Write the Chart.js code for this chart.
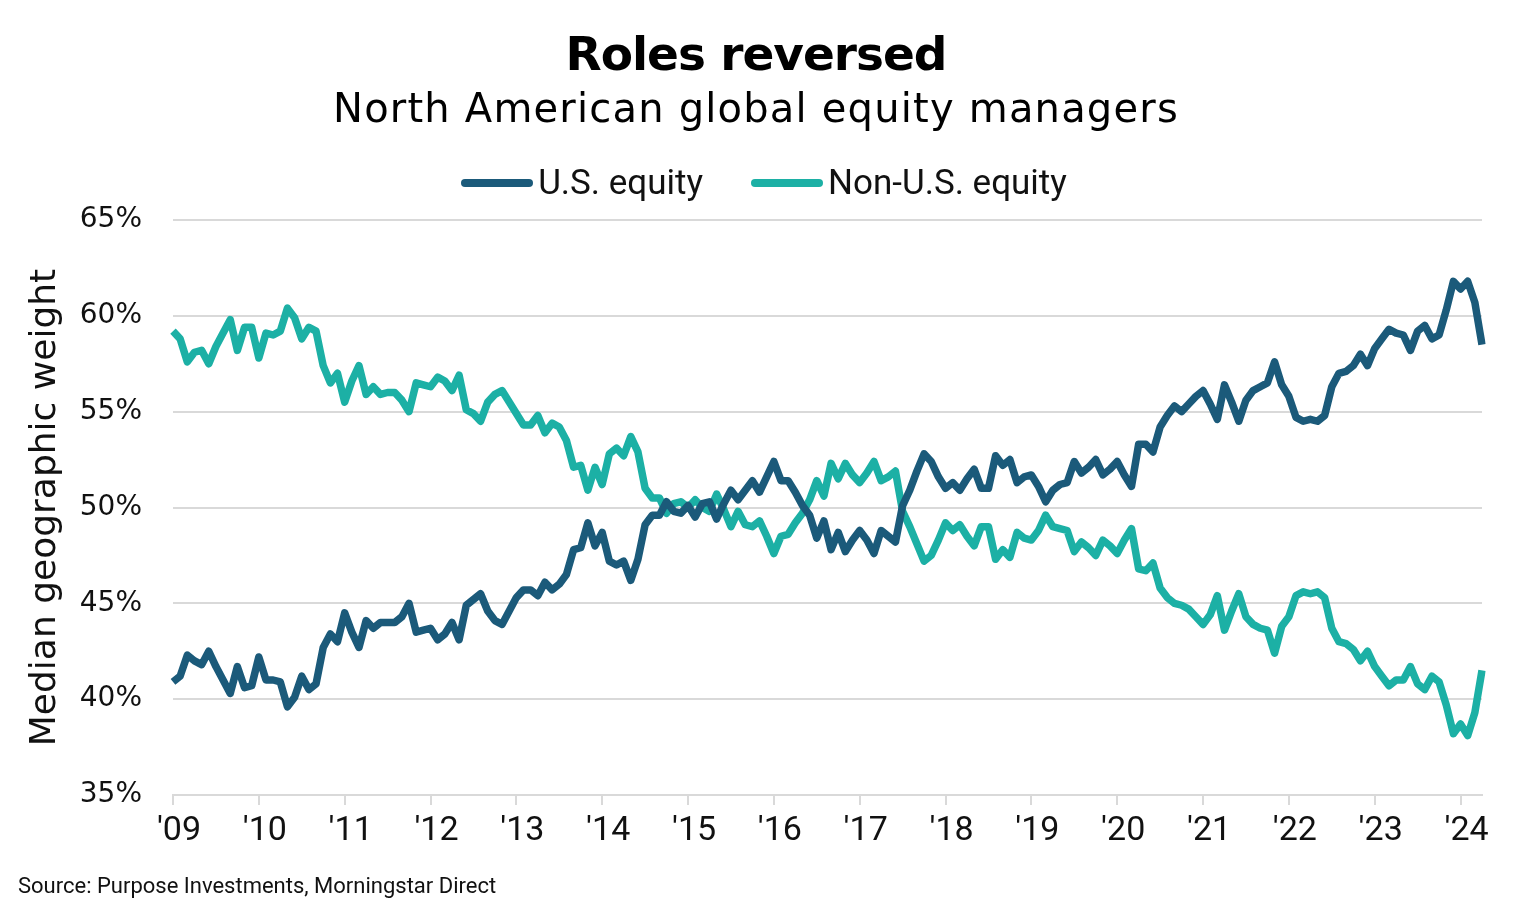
<!DOCTYPE html>
<html>
<head>
<meta charset="utf-8">
<title>Roles reversed</title>
<script src="https://cdn.jsdelivr.net/npm/chart.js@4.4.1/dist/chart.umd.min.js"></script>
<style>
  html, body { margin: 0; padding: 0; background: #fff; }
  #wrap { position: relative; width: 1524px; height: 922px; overflow: hidden; }
  #chart { position: absolute; left: 0; top: 0; }
  .head { position: absolute; left: 0; width: 1512px; text-align: center; color: #000; line-height: 1; }
  #t1 { top: 30px; font-family: 'DejaVu Sans'; font-weight: bold; font-size: 47px; letter-spacing: -1px; }
  #t2 { top: 88px; font-family: 'DejaVu Sans'; font-size: 40px; letter-spacing: 1.2px; }
  #legend { position: absolute; left: 0; top: 163px; width: 1528px; display: flex; justify-content: center; gap: 48px;
            font-family: Roboto; font-size: 35px; color: #111; line-height: 40px; }
  #legend .item { display: flex; align-items: center; }
  #legend .bar { width: 72px; height: 8px; border-radius: 4px; margin-right: 5px; }
  #src { position: absolute; left: 18px; top: 875px; font-family: Roboto; font-size: 22px; color: #111; line-height: 1; }
</style>
</head>
<body>
<div id="wrap">
  <canvas id="chart" width="1524" height="922"></canvas>
  <div class="head" id="t1">Roles reversed</div>
  <div class="head" id="t2">North American global equity managers</div>
  <div id="legend"></div>
  <div id="src">Source: Purpose Investments, Morningstar Direct</div>
</div>
<script>
// monthly median weights, Jan 2009 - Apr 2024
const usEquity = [
  40.9, 41.2, 42.3, 42.0, 41.8, 42.5, 41.7, 41.0, 40.3, 41.7, 40.6, 40.7,
  42.2, 41.0, 41.0, 40.9, 39.6, 40.1, 41.2, 40.5, 40.8, 42.7, 43.4, 43.0,
  44.5, 43.5, 42.7, 44.1, 43.7, 44.0, 44.0, 44.0, 44.3, 45.0, 43.5, 43.6,
  43.7, 43.1, 43.4, 44.0, 43.1, 44.9, 45.2, 45.5, 44.6, 44.1, 43.9, 44.6,
  45.3, 45.7, 45.7, 45.4, 46.1, 45.7, 46.0, 46.5, 47.8, 47.9, 49.2, 48.0,
  48.7, 47.2, 47.0, 47.2, 46.2, 47.3, 49.1, 49.6, 49.6, 50.3, 49.8, 49.7,
  50.1, 49.5, 50.2, 50.3, 49.4, 50.2, 50.9, 50.4, 50.9, 51.4, 50.8, 51.6,
  52.4, 51.4, 51.4, 50.8, 50.1, 49.6, 48.4, 49.3, 47.8, 48.7, 47.7, 48.3,
  48.8, 48.3, 47.6, 48.8, 48.5, 48.2, 50.1, 50.9, 51.9, 52.8, 52.4, 51.6,
  51.0, 51.3, 50.9, 51.5, 52.0, 51.0, 51.0, 52.7, 52.2, 52.5, 51.3, 51.6,
  51.7, 51.1, 50.3, 50.9, 51.2, 51.3, 52.4, 51.8, 52.1, 52.5, 51.7, 52.0,
  52.4, 51.7, 51.1, 53.3, 53.3, 52.9, 54.2, 54.8, 55.3, 55.0, 55.4, 55.8,
  56.1, 55.4, 54.6, 56.4, 55.5, 54.5, 55.6, 56.1, 56.3, 56.5, 57.6, 56.4,
  55.8, 54.7, 54.5, 54.6, 54.5, 54.8, 56.3, 57.0, 57.1, 57.4, 58.0, 57.4,
  58.3, 58.8, 59.3, 59.1, 59.0, 58.2, 59.2, 59.5, 58.8, 59.0, 60.3, 61.8,
  61.4, 61.8, 60.7, 58.5
];
const nonUsEquity = [
  59.2, 58.8, 57.6, 58.1, 58.2, 57.5, 58.4, 59.1, 59.8, 58.2, 59.4, 59.4,
  57.8, 59.1, 59.0, 59.2, 60.4, 59.9, 58.8, 59.4, 59.2, 57.4, 56.5, 57.0,
  55.5, 56.6, 57.4, 55.9, 56.3, 55.9, 56.0, 56.0, 55.6, 55.0, 56.5, 56.4,
  56.3, 56.8, 56.6, 56.1, 56.9, 55.1, 54.9, 54.5, 55.5, 55.9, 56.1, 55.5,
  54.9, 54.3, 54.3, 54.8, 53.9, 54.4, 54.2, 53.5, 52.1, 52.2, 50.9, 52.1,
  51.2, 52.8, 53.1, 52.7, 53.7, 52.9, 51.0, 50.5, 50.5, 49.7, 50.2, 50.3,
  50.0, 50.4, 50.0, 49.8, 50.7, 49.9, 49.0, 49.8, 49.1, 49.0, 49.3, 48.5,
  47.6, 48.5, 48.6, 49.2, 49.7, 50.4, 51.4, 50.6, 52.3, 51.5, 52.3, 51.7,
  51.3, 51.8, 52.4, 51.4, 51.6, 51.9, 49.8, 49.0, 48.1, 47.2, 47.5, 48.3,
  49.2, 48.8, 49.1, 48.5, 48.0, 49.0, 49.0, 47.3, 47.8, 47.4, 48.7, 48.4,
  48.3, 48.8, 49.6, 49.0, 48.9, 48.8, 47.7, 48.2, 47.9, 47.5, 48.3, 48.0,
  47.6, 48.3, 48.9, 46.8, 46.7, 47.1, 45.8, 45.3, 45.0, 44.9, 44.7, 44.3,
  43.9, 44.4, 45.4, 43.6, 44.6, 45.5, 44.3, 43.9, 43.7, 43.6, 42.4, 43.8,
  44.3, 45.4, 45.6, 45.5, 45.6, 45.3, 43.7, 43.0, 42.9, 42.6, 42.0, 42.5,
  41.7, 41.2, 40.7, 41.0, 41.0, 41.7, 40.8, 40.5, 41.2, 40.9, 39.7, 38.2,
  38.7, 38.1, 39.3, 41.5
];
const yearTicks = ["'09", "'10", "'11", "'12", "'13", "'14", "'15", "'16",
                   "'17", "'18", "'19", "'20", "'21", "'22", "'23", "'24"];
const seriesNames = ['U.S. equity', 'Non-U.S. equity'];
const seriesColors = ['#1b5a7a', '#1cb0a5'];

const months = [];
for (let i = 0; i < usEquity.length; i++) {
  months.push((2009 + Math.floor(i / 12)) + '-' + String(i % 12 + 1).padStart(2, '0'));
}

const gridGrey = '#d9d9d9';

const chart = new Chart(document.getElementById('chart'), {
  type: 'line',
  data: {
    labels: months,
    datasets: [
      { label: seriesNames[0], data: usEquity, borderColor: seriesColors[0], backgroundColor: seriesColors[0] },
      { label: seriesNames[1], data: nonUsEquity, borderColor: seriesColors[1], backgroundColor: seriesColors[1] }
    ]
  },
  options: {
    responsive: false,
    animation: false,
    devicePixelRatio: 1,
    layout: { padding: { top: 220, right: 42, bottom: 52, left: 0 } },
    elements: {
      point: { radius: 0 },
      line: { borderWidth: 7.5, tension: 0, borderJoinStyle: 'round', borderCapStyle: 'butt' }
    },
    plugins: {
      legend: { display: false },
      tooltip: { enabled: false }
    },
    scales: {
      x: {
        type: 'category',
        offset: false,
        afterFit: (s) => { s.height = 75; },
        grid: { drawOnChartArea: false, drawTicks: true, tickLength: 10, color: gridGrey, lineWidth: 2 },
        border: { display: true, color: gridGrey, width: 2 },
        ticks: {
          autoSkip: false,
          maxRotation: 0,
          padding: 6,
          labelOffset: 6,
          color: '#111',
          font: { family: 'Roboto', size: 34 },
          callback: (value, index) => (index % 12 === 0 ? yearTicks[index / 12] : null)
        }
      },
      y: {
        min: 35,
        max: 65,
        afterFit: (s) => { s.width = 173; },
        grid: { color: gridGrey, lineWidth: 2, drawTicks: false },
        border: { display: false },
        ticks: {
          stepSize: 5,
          padding: 31,
          color: '#111',
          font: { family: 'DejaVu Sans', size: 28 },
          callback: (v) => v + '%'
        },
        title: {
          display: true,
          text: 'Median geographic weight',
          color: '#111',
          font: { family: 'DejaVu Sans', size: 36 },
          padding: { top: 24, bottom: 0 }
        }
      }
    }
  }
});

// legend built from the chart's datasets
const legendEl = document.getElementById('legend');
chart.data.datasets.forEach((ds) => {
  const item = document.createElement('div');
  item.className = 'item';
  const bar = document.createElement('span');
  bar.className = 'bar';
  bar.style.background = ds.borderColor;
  const txt = document.createElement('span');
  txt.textContent = ds.label;
  item.appendChild(bar);
  item.appendChild(txt);
  legendEl.appendChild(item);
});
</script>
</body>
</html>
